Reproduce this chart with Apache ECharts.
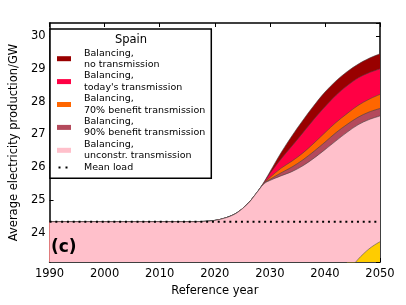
<!DOCTYPE html>
<html><head><meta charset="utf-8">
<script src="https://cdn.jsdelivr.net/npm/echarts@6/dist/echarts.min.js"></script>
<style>html,body{margin:0;padding:0;background:#fff}#c{width:406px;height:305px}</style>
</head><body><div id="c"></div>
<script>
var years = [1990, 2000, 2010, 2016, 2018, 2020, 2022, 2024, 2026, 2027, 2028, 2029, 2030, 2032, 2034, 2036, 2038, 2040, 2042, 2044, 2046, 2048, 2050];
var noTransmission   = [24.33,24.33,24.33,24.33,24.34,24.37,24.45,24.60,24.88,25.08,25.30,25.56,25.85,26.43,26.95,27.43,27.88,28.29,28.63,28.91,29.14,29.32,29.46];
var todayTransmission= [24.33,24.33,24.33,24.33,24.34,24.37,24.45,24.60,24.88,25.08,25.30,25.54,25.80,26.24,26.64,27.05,27.46,27.84,28.19,28.48,28.72,28.88,29.00];
var benefit70        = [24.33,24.33,24.33,24.33,24.34,24.37,24.45,24.60,24.88,25.08,25.30,25.52,25.68,25.96,26.18,26.43,26.73,27.05,27.36,27.63,27.88,28.07,28.22];
var benefit90        = [24.33,24.33,24.33,24.33,24.34,24.37,24.45,24.60,24.88,25.08,25.30,25.51,25.62,25.82,26.00,26.22,26.48,26.76,27.05,27.30,27.52,27.68,27.79];
var unconstrained    = [24.33,24.33,24.33,24.33,24.34,24.37,24.45,24.60,24.88,25.08,25.30,25.50,25.59,25.73,25.86,26.04,26.27,26.53,26.80,27.06,27.29,27.45,27.56];
var meanLoadYears = [1990, 2050];
var meanLoad = [24.33, 24.33];
var yellowYears = [2044, 2045, 2046, 2047, 2048, 2049, 2050];
var yellowVals  = [22.80, 22.98, 23.18, 23.35, 23.50, 23.62, 23.72];

var names = ['Balancing,\nno transmission', "Balancing,\ntoday's transmission", 'Balancing,\n70% benefit transmission', 'Balancing,\n90% benefit transmission', 'Balancing,\nunconstr. transmission'];
var colors = ['#990000', '#ff0044', '#ff6600', '#b44a5c', '#ffc0cb'];
var sets = [noTransmission, todayTransmission, benefit70, benefit90, unconstrained];

function pairs(xs, ys){ return xs.map(function(x,i){return [x, ys[i]];}); }
var FONT = 'DejaVu Sans';
var series = sets.map(function(s, i){
  return {
    name: names[i], type: 'line', data: pairs(years, s), smooth: 0.35, symbol: 'none',
    color: colors[i],
    lineStyle: {color: '#444', width: 0.6},
    areaStyle: {color: colors[i], opacity: 1, origin: 'start'},
    z: 2 + i
  };
});
series.push({
  name: 'yellow', type: 'line', data: pairs(yellowYears, yellowVals), smooth: 0.4, symbol: 'none',
  color: '#ffcc00', lineStyle: {color: '#555', width: 0.6},
  areaStyle: {color: '#ffcc00', opacity: 1, origin: 'start'}, z: 8
});
series.push({
  name: 'Mean load', type: 'line', data: pairs(meanLoadYears, meanLoad), symbol: 'none',
  color: '#000', itemStyle: {color: '#000'},
  lineStyle: {color: '#000', width: 2, type: [2, 3.8]}, z: 9
});

var legendData = names.map(function(n, i){ return {name: n, icon: 'rect', itemStyle: {color: colors[i], borderWidth: 0}}; });
legendData.push({name: 'Mean load', icon: 'path://M0,0M14,5M1.5,1.5h2v2h-2zM8.5,1.5h2v2h-2z', itemStyle: {color: '#000', borderWidth: 0}});

var axisCommon = {
  axisLine: {show: true, onZero: false, lineStyle: {color: '#000', width: 1.5}},
  axisTick: {show: true, inside: true, length: 4, lineStyle: {color: '#000', width: 1}},
  splitLine: {show: false}
};

var chart = echarts.init(document.getElementById('c'), null, {renderer: 'canvas'});
chart.setOption({
  animation: false,
  backgroundColor: '#fff',
  grid: {left: 43, right: 26, top: 23, bottom: 43, containLabel: false},
  xAxis: [
    Object.assign({type: 'value', min: 1990, max: 2050, interval: 10, position: 'bottom',
      name: 'Reference year', nameLocation: 'middle', nameGap: 22,
      nameTextStyle: {fontFamily: FONT, fontSize: 11.5, color: '#000'},
      axisLabel: {fontFamily: FONT, fontSize: 11.5, color: '#000', margin: 6,
        formatter: function(v){ return String(v); }}}, axisCommon),
    Object.assign({type: 'value', min: 1990, max: 2050, interval: 10, position: 'top',
      axisLabel: {show: false}}, axisCommon)
  ],
  yAxis: [
    Object.assign({type: 'value', min: 23.1, max: 30.4, splitNumber: 7, position: 'left',
      name: 'Average electricity production/GW', nameLocation: 'middle', nameGap: 28,
      nameTextStyle: {fontFamily: FONT, fontSize: 11.5, color: '#000'},
      axisLabel: {fontFamily: FONT, fontSize: 11.5, color: '#000', margin: 4, showMinLabel: false, showMaxLabel: false,
        formatter: function(v){ return Math.abs(v - Math.round(v)) < 1e-6 ? String(Math.round(v)) : ''; }}}, axisCommon),
    Object.assign({type: 'value', min: 23.1, max: 30.4, splitNumber: 7, position: 'right',
      axisLabel: {show: false}}, axisCommon)
  ],
  legend: {
    data: legendData, orient: 'vertical', left: 50, top: 29,
    padding: [18.5, 6, 5, 7], itemGap: 0.5, itemWidth: 14, itemHeight: 5,
    backgroundColor: '#fff', borderColor: '#000', borderWidth: 1.5, borderRadius: 0,
    selectedMode: false,
    itemStyle: {borderWidth: 0},
    textStyle: {fontFamily: FONT, fontSize: 9.5, lineHeight: 11.2, color: '#000', padding: [0, 0, 0, 8]},
    z: 20
  },
  graphic: [
    {type: 'text', x: 131, y: 40, z: 100, style: {text: 'Spain', fontFamily: FONT, fontSize: 11.5, fill: '#000', align: 'center', verticalAlign: 'middle'}},
    {type: 'text', x: 51, y: 248, z: 100, style: {text: '(c)', fontFamily: FONT, fontSize: 17, fontWeight: 'bold', fill: '#000', align: 'left', verticalAlign: 'middle'}}
  ],
  series: series
});
</script></body></html>
